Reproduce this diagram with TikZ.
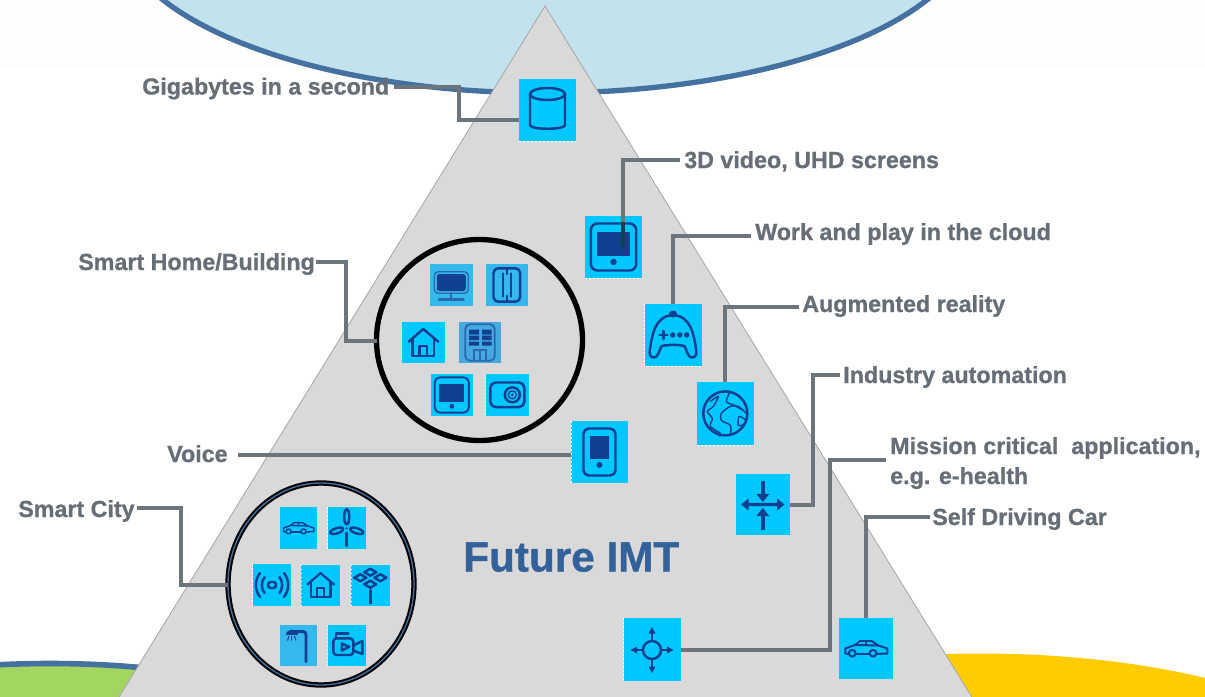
\documentclass[tikz,border=0pt]{standalone}
\usepackage{fontspec}
\setmainfont{Liberation Sans}[BoldFeatures={FakeBold=0.9}]
\usetikzlibrary{shapes.geometric,calc}
\definecolor{bandc}{HTML}{FFFDFB}
\definecolor{skyc}{HTML}{C2E3ED}
\definecolor{rimc}{HTML}{44719F}
\definecolor{greenc}{HTML}{A2D660}
\definecolor{yellowc}{HTML}{FFCC00}
\definecolor{pyrc}{HTML}{D9D9D9}
\definecolor{pyre}{HTML}{A6A6A6}
\definecolor{connc}{HTML}{6C747E}
\definecolor{txtc}{HTML}{666E78}
\definecolor{titlec}{HTML}{33619A}
\definecolor{boxc}{HTML}{00C8FF}
\definecolor{boxl}{HTML}{35B8EC}
\definecolor{boxd}{HTML}{44A9DE}
\definecolor{inkc}{HTML}{123F8F}
\definecolor{inkl}{HTML}{2B68AE}
\tikzset{
  conn/.style={draw=connc,line width=3.6pt,line join=miter},
  lbl/.style={anchor=base west,inner sep=0pt,text=txtc,font=\fontsize{17.45pt}{20pt}\selectfont\bfseries},
  iconbox/.style={fill=#1,draw=none,inner sep=0pt,outer sep=0pt},
  ink/.style={draw=inkc,line width=#1*1.85pt,line cap=round,line join=round},
  ringc/.style={draw=black,ellipse,inner sep=0pt,outer sep=0pt,line width=4pt},
  edgedots/.style={draw=white,line width=.7pt,dash pattern=on 1.4pt off 1.6pt}
}
\newcommand{\ibox}[6]{\node[iconbox=#6,minimum width={(#4-#2)*.75pt},minimum height={(#5-#3)*.75pt}] (#1) at ({(#2+#4)/2},{(#3+#5)/2}) {};}
\newcommand{\icyl}[3]{\begin{scope}[shift={(#1,#2)},scale=#3]
 \draw[ink=#3] (0,-16) ellipse [x radius=17.5,y radius=6];
 \draw[ink=#3] (-17.5,-16) -- (-17.5,15) .. controls (-17.5,20) and (17.5,20) .. (17.5,15) -- (17.5,-16);
\end{scope}}
\newcommand{\itablet}[3]{\begin{scope}[shift={(#1,#2)},scale=#3]
 \draw[ink=#3,rounded corners=#3*5pt] (-22.7,-23.5) rectangle (22.7,23.5);
 \fill[inkc] (-16.7,-15.3) rectangle (16.7,9);
 \fill[inkc] (0,15) circle (3.2);
\end{scope}}
\newcommand{\iphone}[3]{\begin{scope}[shift={(#1,#2)},scale=#3]
 \draw[ink=#3,rounded corners=#3*4pt] (-16,-23.5) rectangle (16,23.5);
 \fill[inkc] (-9.5,-16) rectangle (9.5,7);
 \fill[inkc] (0,13) circle (3);
\end{scope}}
\newcommand{\igame}[3]{\begin{scope}[shift={(#1,#2)},scale=#3]
 \draw[ink=#3] (-11.5,11) .. controls (-5,9.5) and (5,9.5) .. (11.5,11) .. controls (14,16) and (15,22.5) .. (19,22.5) .. controls (23,22.5) and (24,19) .. (23,14) .. controls (21,0) and (18,-19) .. (0,-20) .. controls (-18,-19) and (-21,0) .. (-23,14) .. controls (-24,19) and (-23,22.5) .. (-19,22.5) .. controls (-15,22.5) and (-14,16) .. cycle;
 \fill[inkc] (0,-21) ellipse [x radius=4,y radius=3.5];
 \draw[ink=#3] (-13.5,0) -- (-5.5,0) (-9.5,-4) -- (-9.5,4);
 \fill[inkc] (-0.3,0) circle (2.7) (6.8,0) circle (2.7) (13.7,0) circle (2.7);
\end{scope}}
\newcommand{\iglobe}[3]{\begin{scope}[shift={(#1,#2)},scale=#3]
 \draw[ink=#3] (0,0) circle (22);
 \draw[draw=inkc,line width=#3*1.1pt,line join=round] plot[smooth] coordinates {(-15,-12) (-7,-17) (-12,-7) (-18,-2) (-13,5) (-15,13) (-5,20) (-6,23)};
 \draw[draw=inkc,line width=#3*1.1pt,line join=round] plot[smooth] coordinates {(21,0) (13,-7) (5,-7) (-4,0) (-4,7) (5,12) (5,22)};
 \draw[draw=inkc,line width=#3*1.1pt,line join=round] plot[smooth] coordinates {(5,-22) (1,-12) (9,-8) (18,-3)};
 \draw[draw=inkc,line width=#3*1.1pt,line join=round] plot[smooth] coordinates {(21,7) (14,3) (13,12) (19,11)};
\end{scope}}
\newcommand{\iarrows}[3]{\begin{scope}[shift={(#1,#2)},scale=#3]
 \fill[inkc] (-21.7,0) -- (-14.3,-6) -- (-14.3,-1.6) -- (14.3,-1.6) -- (14.3,-6) -- (21.7,0) -- (14.3,6) -- (14.3,1.6) -- (-14.3,1.6) -- (-14.3,6) -- cycle;
 \fill[inkc] (-2.2,-24) rectangle (2.2,-10);
 \fill[inkc] (-6.5,-10.7) -- (6.5,-10.7) -- (0,-2.5) -- cycle;
 \fill[inkc] (-2.2,25) rectangle (2.2,11);
 \fill[inkc] (-6.5,11.7) -- (6.5,11.7) -- (0,3.3) -- cycle;
\end{scope}}
\newcommand{\iround}[3]{\begin{scope}[shift={(#1,#2)},scale=#3]
 \draw[ink=#3] (0,0) circle (9);
 \draw[ink=#3] (-9,0) -- (-16,0) (9,0) -- (16,0) (0,-9) -- (0,-17) (0,9) -- (0,17);
 \fill[inkc] (-21.5,0) -- (-15,-3.5) -- (-15,3.5) -- cycle;
 \fill[inkc] (21.5,0) -- (15,-3.5) -- (15,3.5) -- cycle;
 \fill[inkc] (0,-23) -- (-3.5,-16.5) -- (3.5,-16.5) -- cycle;
 \fill[inkc] (0,23) -- (-3.5,16.5) -- (3.5,16.5) -- cycle;
\end{scope}}
\newcommand{\icar}[3]{\begin{scope}[shift={(#1,#2)},scale=#3]
 \draw[ink=#3*.8] (-17.5,5.5) -- (-20.7,5) -- (-20.7,0) -- (-11,-3.5) -- (-6,-7.5) -- (5.7,-7.5) -- (12.3,-3) -- (21.3,0) -- (21.3,5) -- (10.5,5.5);
 \draw[ink=#3*.8] (3.5,5.5) -- (-10.2,5.5);
 \draw[ink=#3*.8] (-11,-3.5) -- (12.3,-3) (0,-7.5) -- (0,-3);
 \draw[ink=#3*.8] (-13.8,4.7) circle (3.4) (7,4.7) circle (3.4);
\end{scope}}
\newcommand{\ihouse}[3]{\begin{scope}[shift={(#1,#2)},scale=#3]
 \draw[ink=#3] (-14.5,-0.8) -- (0,-13.5) -- (15,-0.8);
 \draw[ink=#3] (-10.5,-3) -- (-10.5,13.5) -- (11,13.5) -- (11,-3);
 \draw[ink=#3] (-3.7,13.5) -- (-3.7,3.5) -- (3.7,3.5) -- (3.7,13.5);
\end{scope}}
\newcommand{\imonitor}[3]{\begin{scope}[shift={(#1,#2)},scale=#3]
 \draw[draw=inkl,line width=#3*1pt,rounded corners=#3*3pt] (-17,-13.3) rectangle (17,8.3);
 \fill[inkc,rounded corners=#3*2pt] (-14.5,-11) rectangle (14.5,6);
 \draw[draw=inkl,line width=#3*1.6pt,line cap=round] (0,8.3) -- (0,14.3) (-12.5,14.5) -- (12.5,14.5);
\end{scope}}
\newcommand{\ifridge}[3]{\begin{scope}[shift={(#1,#2)},scale=#3]
 \draw[ink=#3,rounded corners=#3*3.5pt] (-13.3,-16.7) rectangle (13.3,16.7);
 \draw[ink=#3] (-4,-11.5) -- (-4,11.5) (4,-11.5) -- (4,11.5) (0,-16.7) -- (0,-11) (0,16.7) -- (0,11);
\end{scope}}
\newcommand{\ibuilding}[3]{\begin{scope}[shift={(#1,#2)},scale=#3]
 \draw[draw=inkl,line width=#3*1.4pt,rounded corners=#3*3.5pt] (-14.7,-18.2) rectangle (14.7,18.2);
 \fill[inkc] (-11,-13) rectangle (-1,-8) (2,-13) rectangle (11.7,-8) (-11,-7) rectangle (-1,-2.5) (2,-7) rectangle (11.7,-2.5) (-11,-1) rectangle (-1,3) (2,-1) rectangle (11.7,3);
 \draw[draw=inkl,line width=#3*1.1pt] (-6,17.5) -- (-6,7.5) -- (6,7.5) -- (6,17.5) (0,7.5) -- (0,17.5);
\end{scope}}
\newcommand{\iphoto}[3]{\begin{scope}[shift={(#1,#2)},scale=#3]
 \draw[ink=#3,rounded corners=#3*4pt] (-17,-12.3) rectangle (17,12.3);
 \draw[ink=#3] (5,0) circle (7.5);
 \draw[draw=inkc,line width=#3*1pt] (5,0) circle (4);
 \fill[inkc] (5,0) circle (1.6);
\end{scope}}
\newcommand{\iturbine}[3]{\begin{scope}[shift={(#1,#2)},scale=#3]
 \draw[ink=#3] (0,-11.5) ellipse [x radius=2.6,y radius=7.5];
 \draw[ink=#3] (-10,2.5) ellipse [x radius=6.8,y radius=2.6,rotate=18];
 \draw[ink=#3] (10,2.5) ellipse [x radius=6.8,y radius=2.6,rotate=-18];
 \fill[inkc] (0,0) circle (1.2);
 \draw[ink=#3] (0,4.5) -- (0,17.5);
\end{scope}}
\newcommand{\iradio}[3]{\begin{scope}[shift={(#1,#2)},scale=#3]
 \draw[ink=#3,rounded corners=#3*2pt] (-4,-3) rectangle (4,3);
 \draw[ink=#3] (-7.5,-8) .. controls (-11,-3) and (-11,3) .. (-7.5,8) (7.5,-8) .. controls (11,-3) and (11,3) .. (7.5,8);
 \draw[ink=#3] (-12,-12) .. controls (-17.5,-5) and (-17.5,5) .. (-12,12) (12,-12) .. controls (17.5,-5) and (17.5,5) .. (12,12);
\end{scope}}
\newcommand{\isolar}[3]{\begin{scope}[shift={(#1,#2)},scale=#3]
 \draw[ink=#3] (-6,-13) -- (0,-16.5) -- (6,-13) -- (0,-9.5) -- cycle;
 \draw[ink=#3] (-16,-7.5) -- (-10,-11) -- (-4,-7.5) -- (-10,-4) -- cycle;
 \draw[ink=#3] (16,-7.5) -- (10,-11) -- (4,-7.5) -- (10,-4) -- cycle;
 \draw[ink=#3] (-6,-1) -- (0,-4.5) -- (6,-1) -- (0,2.5) -- cycle;
 \draw[ink=#3] (0,5) -- (0,18);
\end{scope}}
\newcommand{\ilamp}[3]{\begin{scope}[shift={(#1,#2)},scale=#3]
 \draw[draw=inkc,line width=#3*2.2pt,line cap=round,rounded corners=#3*2pt] (-6.8,-13.3) -- (7.5,-13.3) -- (7.5,16.7);
 \fill[inkc] (-12.5,-10) .. controls (-12.5,-17.5) and (-1,-17.5) .. (-1,-10) -- cycle;
 \draw[draw=inkc,line width=#3*.8pt] (-9.5,-9) -- (-11,-4.5) (-6.8,-9) -- (-6.8,-4.5) (-4,-9) -- (-2.5,-4.5);
\end{scope}}
\newcommand{\ivideo}[3]{\begin{scope}[shift={(#1,#2)},scale=#3]
 \draw[ink=#3,rounded corners=#3*2.5pt] (-13.5,-6.7) rectangle (6.5,10);
 \draw[ink=#3] (-5,-1.5) -- (2.3,1.8) -- (-5,5.5) -- cycle;
 \draw[ink=#3] (7.5,0) -- (15.5,-4) -- (15.5,9) -- (7.5,6);
 \draw[ink=#3] (-11,-6.7) -- (-11,-11.5) -- (1.5,-11.5);
\end{scope}}
\begin{document}
\begin{tikzpicture}[x=.75pt,y=-.75pt]
\useasboundingbox (0,0) rectangle (1205,696);
\begin{scope}
 \clip (0,0) rectangle (1205,696);
 \fill[bandc] (0,0) rectangle (1205,68);
 \fill[white] (0,68) rectangle (1205,700);
 \draw[fill=skyc,draw=rimc,line width=4pt] (545,-75.5) ellipse [x radius=427,y radius=168.5];
 \draw[fill=greenc,draw=rimc,line width=4.2pt] (50,750.5) ellipse [x radius=300,y radius=87];
 \fill[yellowc] (980,794.5) ellipse [x radius=400,y radius=141];
 \path[fill=pyrc,draw=pyre,line width=.6pt] (545,6) -- (975,702) -- (116,702) -- cycle;
\end{scope}
% rings
\node[ringc,minimum width={206*.75pt},minimum height={201*.75pt}] (hc) at (479.5,340) {};
\node[ringc,minimum width={186*.75pt},minimum height={202*.75pt}] (cc) at (321,584) {};
\draw[draw=rimc,line width=1pt] (321,584) ellipse [x radius=93,y radius=101];
% big icons
\ibox{cyl}{519}{79}{576}{141}{boxc}\icyl{547.5}{110}{1}
\ibox{tab}{585.3}{216}{641.7}{278}{boxc}\itablet{613.5}{247}{1}
\ibox{game}{644.7}{304}{701.7}{366}{boxc}\igame{673}{335}{1}
\ibox{globe}{697}{382}{753.7}{445}{boxc}\iglobe{725.3}{413.4}{1}
\ibox{phone}{571}{421}{628}{483}{boxc}\iphone{599.5}{452}{1}
\ibox{arr}{735.7}{474}{790}{535}{boxc}\iarrows{762.8}{504.5}{1}
\ibox{rnd}{623.7}{618}{680.7}{681}{boxc}\iround{652}{650}{1}
\ibox{car}{839}{618}{893}{679}{boxc}\icar{866}{648.5}{1}
% smart home
\ibox{hmon}{430}{264}{472.7}{306}{boxl}\imonitor{451.3}{285}{1}
\ibox{hfri}{485.7}{264}{528}{306}{boxl}\ifridge{506.8}{285}{1}
\ibox{hhou}{401.7}{322}{444.7}{363}{boxc}\ihouse{423.2}{342.5}{1}
\ibox{hbui}{459}{322}{501}{363}{boxd}\ibuilding{480}{342.5}{1}
\ibox{htab}{430.7}{374}{473}{416}{boxc}\itablet{451.8}{395}{.75}
\ibox{hcam}{485.7}{373.5}{529}{416}{boxc}\iphoto{507.3}{394.8}{1}
% smart city
\ibox{ccar}{280}{507}{317}{548.7}{boxc}\icar{298.5}{528}{.72}
\ibox{ctur}{327.7}{507}{365.7}{548.7}{boxc}\iturbine{346.7}{528.3}{1}
\ibox{crad}{252.7}{564}{291.3}{606}{boxc}\iradio{272}{585}{1}
\ibox{chou}{301.3}{564.5}{340}{606}{boxc}\ihouse{320.5}{585.2}{.9}
\ibox{csol}{351}{564.5}{389.5}{606}{boxc}\isolar{370.3}{585.2}{1}
\ibox{clam}{280}{624.5}{317}{666}{boxl}\ilamp{298.5}{645}{1}
\ibox{cvid}{327.7}{624.5}{366}{666}{boxc}\ivideo{346.8}{645}{1}
% dotted box edges
\draw[edgedots] (cyl.south west) -- (cyl.south east);
\draw[edgedots] (tab.south west) -- (tab.south east);
\draw[edgedots] (game.north west) -- (game.south west) -- (game.south east);
\draw[edgedots] (globe.south west) -- (globe.south east);
\draw[edgedots] (phone.north west) -- (phone.south west);
\draw[edgedots] (rnd.north west) -- (rnd.south west);
\draw[edgedots] (hcam.north west) -- (hcam.south west);
\draw[edgedots] (ctur.north west) -- (ctur.south west);
\draw[edgedots] (crad.north west) -- (crad.south west);
\draw[edgedots] (chou.north west) -- (chou.south west);
\draw[edgedots] (csol.north west) -- (csol.south west);
\draw[edgedots] (cvid.north west) -- (cvid.south west);
% labels
\node[lbl] (lgiga) at (142,94.5) {Gigabytes in a second};
\node[lbl] (l3d) at (684,168) {3D video, UHD screens};
\node[lbl] (lwork) at (755,240) {Work and play in the cloud};
\node[lbl] (lar) at (802,312) {Augmented reality};
\node[lbl] (lind) at (843,383) {Industry automation};
\node[lbl] (lmis) at (890,454) {Mission critical\ \ application,};
\node[lbl] (lmis2) at (890,484) {e.g. e-health};
\node[lbl] (lsel) at (932,525) {Self Driving Car};
\node[lbl] (lhome) at (78,270) {Smart Home/Building};
\node[lbl] (lvoi) at (167,462) {Voice};
\node[lbl] (lcit) at (18,517) {Smart City};
\node[anchor=base west,inner sep=0pt,text=titlec,font=\fontsize{31.7pt}{36pt}\selectfont\bfseries] (ltit) at (463,571.5) {Future IMT};
% connector free ends
\coordinate (sgiga) at (394,87);
\coordinate (s3d) at (680,160);
\coordinate (swork) at (751,236);
\coordinate (sar) at (799,307);
\coordinate (sind) at (840,375);
\coordinate (smis) at (886,460);
\coordinate (ssel) at (930,517);
\coordinate (shome) at (316,262);
\coordinate (svoi) at (238,455);
\coordinate (scit) at (137,508);
\coordinate (etab) at (623,247);
% connectors
\draw[conn] (sgiga) -| (459,120) -- (cyl.west |- 0,120);
\draw[conn] (s3d) -| (tab.north -| etab);
\draw[conn] (tab.north -| etab) -- (etab);
\fill[black!70!green!45!inkc] (621,222) rectangle (625,247);
\draw[conn] (swork) -| (game.north -| 673,0);
\draw[conn] (sar) -| (globe.north -| 725,0);
\draw[conn] (sind) -| (813,505) -- (arr.east |- 0,505);
\draw[conn] (smis) -| (830,650) -- (rnd.east |- 0,650);
\draw[conn] (ssel) -| (car.north -| 866,0);
\draw[conn] (svoi) -- (phone.west |- svoi);
\draw[conn] (shome) -| (346,341) -- (hc.west |- 0,341);
\draw[conn] (scit) -| (181,585) -- (cc.west |- 0,585);
\end{tikzpicture}
\end{document}
